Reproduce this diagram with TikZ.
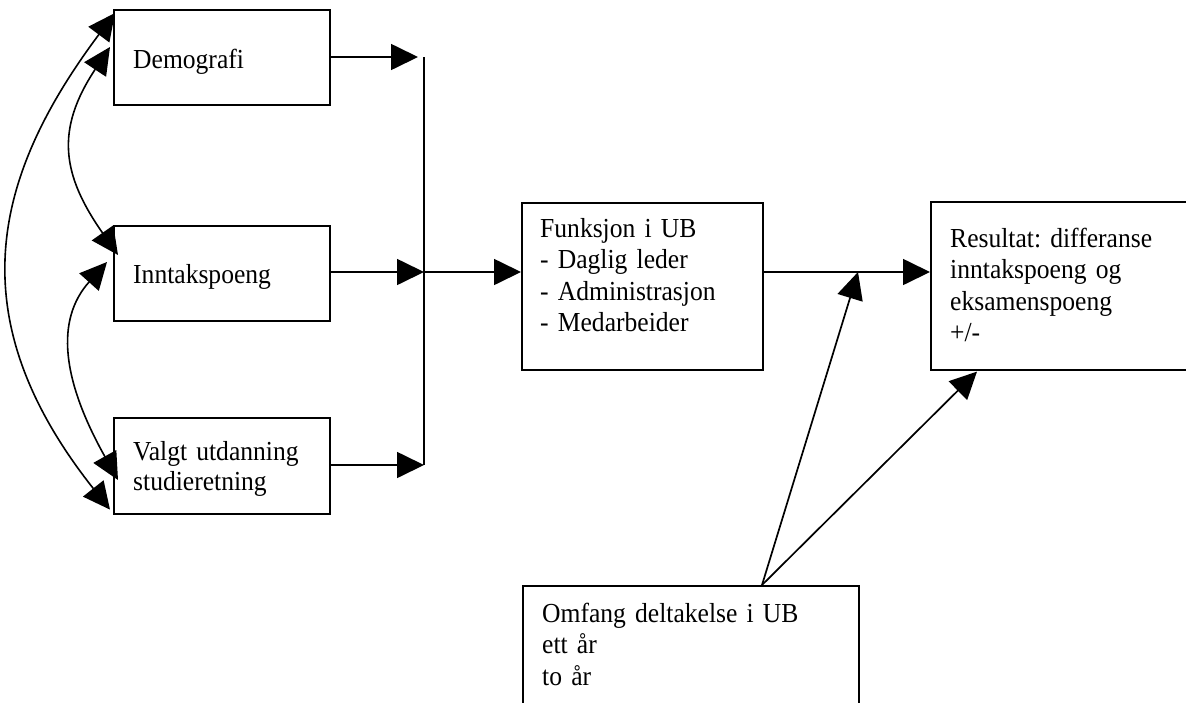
\documentclass[tikz,border=0pt]{standalone}
\usepackage{fontspec}
\setmainfont{Liberation Serif}[FakeStretch=0.93]
\usetikzlibrary{arrows.meta,calc}
\frenchspacing
\begin{document}
\begin{tikzpicture}[x=1pt,y=-1pt,
  box/.style={draw, line width=1.6pt, rectangle, inner sep=0pt, anchor=north west},
  txt/.style={inner sep=0pt, anchor=base west, align=left, text width=#1,
              font=\fontsize{27.5}{31.5}\selectfont},
  txt/.default=320pt,
  conn/.style={line width=1.7pt},
  arr/.style={conn, -{Triangle[length=27pt,width=26pt]}},
  barr/.style={line width=1.6pt,
               {Triangle[length=27pt,width=26pt]}-{Triangle[length=27pt,width=26pt]}}]
\useasboundingbox (0,0) rectangle (1186,702);
\clip (0,0) rectangle (1186,702);

% boxes
\node[box, minimum width=216pt, minimum height=95pt]  (dem) at (113,9)   {};
\node[box, minimum width=216pt, minimum height=95pt]  (inn) at (113,225) {};
\node[box, minimum width=216pt, minimum height=96pt]  (val) at (113,417) {};
\node[box, minimum width=241pt, minimum height=167pt] (fun) at (521,202) {};
\node[box, minimum width=300pt, minimum height=168pt] (res) at (930,201) {};
\node[box, minimum width=336pt, minimum height=150pt] (omf) at (522,585) {};

% texts
\node[txt] (demt) at (133,68)  {Demografi};
\node[txt] (innt) at (133,283) {Inntakspoeng};
\node[txt] (valt) at (133,460) {Valgt utdanning\\[-1.5pt]studieretning};
\node[txt] (funt) at (540,237) {Funksjon i UB\\- Daglig leder\\- Administrasjon\\- Medarbeider};
\node[txt] (rest) at (950,247) {Resultat: differanse\\inntakspoeng og\\eksamenspoeng\\+/-};
\node[txt] (omft) at (542,622) {Omfang deltakelse i UB\\ett år\\to år};

% collecting bar
\coordinate (bartop) at (424,57);
\coordinate (barmid) at (424,272);
\coordinate (barbot) at (424,465);
\draw[conn] (bartop) -- (barbot);

\draw[arr] (dem.east |- bartop) -- ($(bartop)+(-6,0)$);
\draw[arr] (inn.east |- barmid) -- (barmid);
\draw[arr] (val.east |- barbot) -- (barbot);
\draw[arr] (barmid) -- (barmid -| fun.west);
\draw[arr] (fun.east |- barmid) -- (barmid -| res.west);

% participation arrows
\coordinate (omfsrc) at ($(omf.north west)+(240,0)$);
\coordinate (join) at (858,272);
\draw[arr] (omfsrc) -- (join);
\draw[arr] (omfsrc) -- ($(res.south west)+(47,1)$);

% correlations between background variables
\draw[barr] ($(dem.north west)+(2,4)$) .. controls (-10,180) and (-40,320) .. ($(val.south west)+(-3,-5)$);
\draw[barr] ($(dem.north west)+(-3,38)$) .. controls (55,130) and (62,175) .. ($(inn.north west)+(5,30)$);
\draw[barr] ($(inn.north west)+(-6,37)$) .. controls (55,320) and (62,380) .. ($(val.north west)+(5,63)$);
\end{tikzpicture}
\end{document}
